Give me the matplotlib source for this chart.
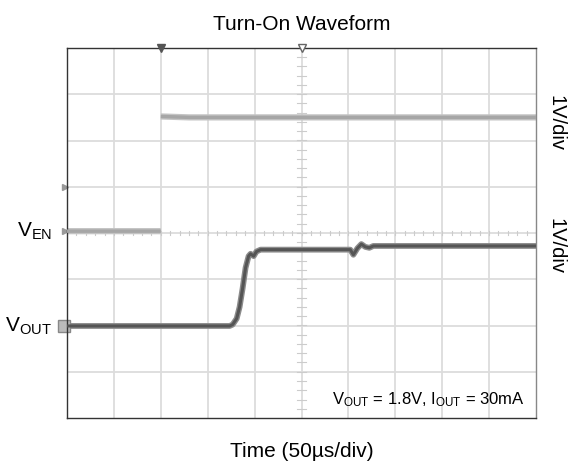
import matplotlib
matplotlib.use("Agg")
import matplotlib.pyplot as plt
import numpy as np

plt.rcParams['font.family'] = ['Liberation Sans', 'DejaVu Sans']
plt.rcParams['mathtext.fontset'] = 'custom'
plt.rcParams['mathtext.rm'] = 'Liberation Sans'
plt.rcParams['mathtext.it'] = 'Liberation Sans'

# time in microseconds (50 us/div), voltage in screen divisions (1 V/div)
# the enable edge is not drawn by the scope, so the trace has a gap (NaN)
ven_t = [0, 100, 100, 100, 130, 500]
ven_v = [0.04, 0.04, np.nan, 2.52, 2.5, 2.5]

vout_t = [0, 173.4, 176.6, 180.9, 184.0, 187.2, 190.4, 193.6, 195.7, 199.0, 202.0,
          206.4, 302.0, 305.3, 309.6, 313.8, 318.0, 322.3, 326.6, 500]
vout_v = [-2.01, -2.01, -1.98, -1.85, -1.6, -1.2, -0.75, -0.5, -0.45, -0.5, -0.4,
          -0.36, -0.36, -0.47, -0.33, -0.24, -0.30, -0.32, -0.28, -0.28]

title = "Turn-On Waveform"
xlabel = "Time (50\u00b5s/div)"
scale_labels = ["1V/div", "1V/div"]

fig = plt.figure(figsize=(5.72, 4.63), dpi=100)
ax = fig.add_axes([67/572, 45/463, 469/572, 370/463])
ax.set_xlim(0, 500)
ax.set_ylim(-4, 4)

# grid
for xv in np.arange(50, 500, 50):
    ax.axvline(xv, color='#dcdcdc', lw=1.3, zorder=0)
for yv in np.arange(-3, 4, 1):
    ax.axhline(yv, color='#dcdcdc', lw=1.3, zorder=0)
# minor ticks on centre lines
for xv in np.arange(0, 500.1, 10):
    ax.plot([xv, xv], [-0.05, 0.05], color='#cccccc', lw=0.8, zorder=0)
for yv in np.arange(-4, 4.01, 0.2):
    ax.plot([245, 255], [yv, yv], color='#cccccc', lw=0.8, zorder=0)

# traces
ax.plot(ven_t, ven_v, color='#c4c4c4', lw=4.5, solid_capstyle='butt', zorder=2)
ax.plot(ven_t, ven_v, color='#a6a6a6', lw=2.5, solid_capstyle='butt', zorder=3)
ax.plot(vout_t, vout_v, color='#8c8c8c', lw=4.2, solid_capstyle='butt', zorder=2)
ax.plot(vout_t, vout_v, color='#555555', lw=2.2, solid_capstyle='butt', zorder=3)

ax.set_xticks([])
ax.set_yticks([])
for s in ['left', 'top', 'bottom']:
    ax.spines[s].set_color('#333333')
ax.spines['right'].set_color('#888888')
for s in ax.spines.values():
    s.set_linewidth(1.0)

# top markers
ax.plot([100], [4.0], marker='v', color='#555555', ms=6, clip_on=False, zorder=5)
ax.plot([250], [4.0], marker='v', mfc='white', mec='#666666', ms=6, clip_on=False, zorder=5)
# left markers
ax.plot([-2], [1.0], marker='>', color='#999999', ms=4, clip_on=False)
ax.plot([-2], [0.04], marker='>', color='#999999', ms=4, clip_on=False)
ax.plot([-3], [-2.01], marker='s', mfc='#bbbbbb', mec='#888888', ms=8, clip_on=False)

ax.set_title(title, fontsize=15, pad=13)
ax.set_xlabel(xlabel, fontsize=15, labelpad=17)

ax.text(-16, 0.04, r'$\mathregular{V_{EN}}$', fontsize=15, ha='right', va='center')
ax.text(-16, -2.01, r'$\mathregular{V_{OUT}}$', fontsize=15, ha='right', va='center')

ax.text(1.022, 0.798, scale_labels[0], transform=ax.transAxes, rotation=-90,
        fontsize=14.5, ha='left', va='center')
ax.text(1.022, 0.465, scale_labels[1], transform=ax.transAxes, rotation=-90,
        fontsize=14.5, ha='left', va='center')

ax.text(0.9765, 0.05, r'$\mathregular{V_{OUT}}$ = 1.8V, $\mathregular{I_{OUT}}$ = 30mA',
        transform=ax.transAxes, fontsize=12.0, ha='right', va='center')

fig.savefig('out.png', dpi=100)
